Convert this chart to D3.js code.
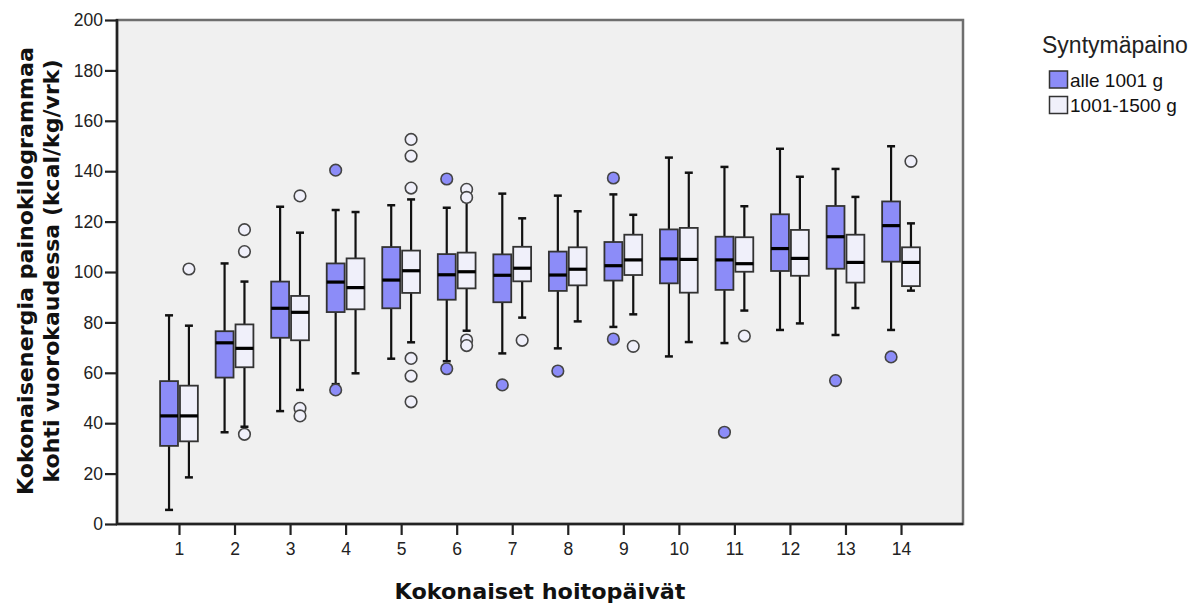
<!DOCTYPE html>
<html><head><meta charset="utf-8">
<script src="https://cdn.jsdelivr.net/npm/d3@7"></script>
<style>body{margin:0;background:#fff}svg{display:block}</style>
</head><body>
<svg id="c" width="1192" height="604"></svg>
<script>
const days = [1,2,3,4,5,6,7,8,9,10,11,12,13,14];
const seriesNames = ["alle 1001 g", "1001-1500 g"];
const yTicks = [0,20,40,60,80,100,120,140,160,180,200];

// alle 1001 g
const aLow  = [5.6,36.4,44.8,55.5,65.6,64.6,67.7,69.7,78.2,66.5,71.8,77.0,75.0,77.0];
const aQ1   = [31.0,58.1,73.9,84.1,85.6,89.0,88.0,92.5,96.6,95.5,92.9,100.4,101.3,104.1];
const aMed  = [42.9,71.9,85.6,96.0,96.8,98.9,98.7,98.8,102.5,105.2,104.8,109.3,114.0,118.4];
const aQ3   = [56.7,76.5,96.2,103.4,109.9,107.1,107.0,108.1,111.9,116.9,114.0,122.9,126.2,128.0];
const aHigh = [82.8,103.4,125.9,124.6,126.5,125.5,131.1,130.3,130.8,145.4,141.7,148.9,140.9,149.9];
const aOut  = [[],[],[],[140.4,53.2],[],[136.9,61.6],[55.2],[60.7],[137.3,73.4],[],[36.4],[],[56.9],[66.3]];

// 1001-1500 g
const bLow  = [18.5,38.6,53.2,59.8,72.1,76.7,81.9,80.4,83.2,72.2,84.7,79.6,85.7,92.6];
const bQ1   = [32.8,62.2,72.9,85.2,91.7,93.5,96.3,94.7,98.8,91.8,100.1,98.5,95.8,94.4];
const bMed  = [42.9,69.7,84.0,93.8,100.5,100.1,101.5,101.1,104.8,105.0,103.3,105.4,103.8,103.8];
const bQ3   = [54.9,79.2,90.5,105.4,108.5,107.7,110.0,109.8,114.8,117.5,113.8,116.7,114.8,109.8];
const bHigh = [78.7,96.2,115.6,123.8,128.8,127.9,121.3,124.1,122.7,139.4,126.1,137.8,129.8,119.3];
const bOut  = [[101.2],[35.6,108.1,116.8],[45.9,42.9,130.2],[],[152.6,146.0,133.3,65.7,58.7,48.5],[132.8,129.6,73.0,70.8],[72.9],[],[70.5],[],[74.6],[],[],[143.9]];

const fills = {"alle 1001 g":"#8c8cf8","1001-1500 g":"#f0f0fa"};

const svg = d3.select("#c");
const L=117, R=963, T=20, B=524;
const x = d3.scalePoint().domain(days).range([L,R]).padding(1.116);
const y = d3.scaleLinear().domain([0,200]).range([B,T]);
const step = x.step();
const xs = d3.scaleBand().domain(seriesNames).range([-step*0.34, step*0.34]).paddingInner(0.1);
const bw = xs.bandwidth();

svg.append("rect").attr("x",L).attr("y",T).attr("width",R-L).attr("height",B-T)
  .attr("fill","#f0f0f0").attr("stroke","#6e6e6e").attr("stroke-width",2.5);

const data = [];
days.forEach((d,i)=>{
  data.push({day:d,s:seriesNames[0],low:aLow[i],q1:aQ1[i],med:aMed[i],q3:aQ3[i],high:aHigh[i],out:aOut[i]});
  data.push({day:d,s:seriesNames[1],low:bLow[i],q1:bQ1[i],med:bMed[i],q3:bQ3[i],high:bHigh[i],out:bOut[i]});
});

const g = svg.append("g");
const grp = g.selectAll("g.box").data(data).join("g")
  .attr("transform",d=>`translate(${x(d.day)+xs(d.s)},0)`);
const cx = bw/2;
grp.append("line").attr("x1",cx).attr("x2",cx).attr("y1",d=>y(d.high)).attr("y2",d=>y(d.low))
  .attr("stroke","#111").attr("stroke-width",2.2);
grp.append("line").attr("x1",cx-4).attr("x2",cx+4).attr("y1",d=>y(d.high)).attr("y2",d=>y(d.high))
  .attr("stroke","#111").attr("stroke-width",2.5);
grp.append("line").attr("x1",cx-4).attr("x2",cx+4).attr("y1",d=>y(d.low)).attr("y2",d=>y(d.low))
  .attr("stroke","#111").attr("stroke-width",2.5);
grp.append("rect").attr("x",0).attr("width",bw).attr("y",d=>y(d.q3)).attr("height",d=>y(d.q1)-y(d.q3))
  .attr("fill",d=>fills[d.s]).attr("stroke","#333").attr("stroke-width",1.8);
grp.append("line").attr("x1",0).attr("x2",bw).attr("y1",d=>y(d.med)).attr("y2",d=>y(d.med))
  .attr("stroke","#000").attr("stroke-width",3.2);
grp.selectAll("circle").data(d=>d.out.map(v=>({v,s:d.s}))).join("circle")
  .attr("cx",cx).attr("cy",o=>y(o.v)).attr("r",5.8)
  .attr("fill",o=>fills[o.s]).attr("stroke","#444").attr("stroke-width",1.6);

// axes
const ya = svg.append("g").attr("transform",`translate(${L},0)`)
  .call(d3.axisLeft(y).tickValues(yTicks).tickSize(12).tickPadding(2).tickSizeOuter(0));
const xa = svg.append("g").attr("transform",`translate(0,${B})`)
  .call(d3.axisBottom(x).tickSize(11).tickPadding(8).tickSizeOuter(0));
[ya,xa].forEach(a=>{
  a.select(".domain").remove();
  a.selectAll(".tick line").attr("stroke","#222").attr("stroke-width",2.2);
  a.selectAll(".tick text").attr("font-family","'Liberation Sans', Arial, sans-serif")
    .attr("font-size",17.5).attr("fill","#222");
});
svg.append("line").attr("x1",L).attr("x2",L).attr("y1",T-1).attr("y2",B+1).attr("stroke","#222").attr("stroke-width",2.5);
svg.append("line").attr("x1",L-1).attr("x2",R).attr("y1",B).attr("y2",B).attr("stroke","#222").attr("stroke-width",2.5);

// titles
svg.append("text").attr("x",540).attr("y",599).attr("text-anchor","middle")
  .attr("font-family","'DejaVu Sans', sans-serif").attr("font-weight","bold").attr("font-size",22)
  .attr("textLength",291).attr("lengthAdjust","spacingAndGlyphs").attr("fill","#111")
  .text("Kokonaiset hoitopäivät");
const yt = svg.append("text").attr("transform","translate(0,271) rotate(-90)")
  .attr("text-anchor","middle").attr("font-family","'DejaVu Sans', sans-serif")
  .attr("font-weight","bold").attr("font-size",22).attr("fill","#111");
yt.append("tspan").attr("x",0).attr("y",33).attr("textLength",448).attr("lengthAdjust","spacingAndGlyphs")
  .text("Kokonaisenergia painokilogrammaa");
yt.append("tspan").attr("x",0).attr("y",59).attr("textLength",423).attr("lengthAdjust","spacingAndGlyphs")
  .text("kohti vuorokaudessa (kcal/kg/vrk)");

// legend
const lg = svg.append("g");
lg.append("text").attr("x",1042).attr("y",53).attr("font-family","'Liberation Sans', Arial, sans-serif")
  .attr("font-size",23).attr("fill","#222").text("Syntymäpaino");
seriesNames.forEach((s,i)=>{
  lg.append("rect").attr("x",1049.5).attr("y",71+i*25.5).attr("width",18).attr("height",17)
    .attr("fill",fills[s]).attr("stroke","#333").attr("stroke-width",1.5);
  lg.append("text").attr("x",1070).attr("y",86.5+i*25.5).attr("font-family","'Liberation Sans', Arial, sans-serif")
    .attr("font-size",19).attr("fill","#111").text(s);
});
</script>
</body></html>
